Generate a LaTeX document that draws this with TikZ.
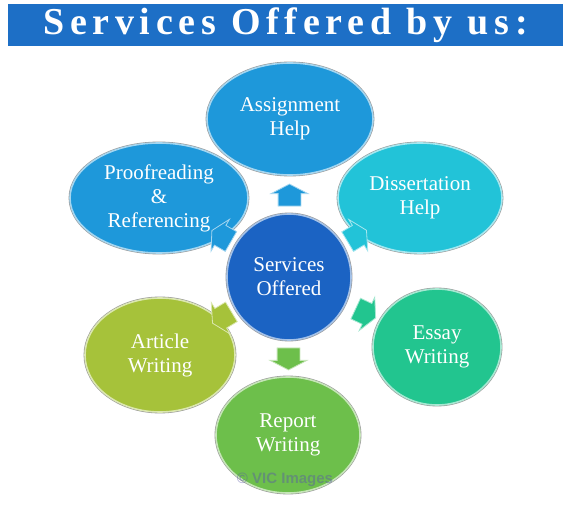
\documentclass[tikz,border=0pt]{standalone}
\usepackage{fontspec}
\setmainfont{Liberation Serif}
\newfontfamily\titlefont{Liberation Serif}[LetterSpace=15]
\newfontfamily\wmfont{Liberation Sans}
\usetikzlibrary{shapes, arrows, positioning, calc}

\definecolor{barblue}{HTML}{1D6FC6}
\definecolor{midblue}{HTML}{1B63C3}
\definecolor{skyblue}{HTML}{1E98DA}
\definecolor{cyanish}{HTML}{22C3D8}
\definecolor{seagreen}{HTML}{22C58F}
\definecolor{leafgreen}{HTML}{6DBF4B}
\definecolor{olivegreen}{HTML}{A6C23A}

\tikzset{
	bubble/.style={ellipse, fill=#1, draw=#1!40!white, line width=1.6pt,
		preaction={draw=black!40, line width=2.8pt},
		text=white, align=center, inner sep=0pt,
		font=\fontsize{21}{24}\selectfont},
	blockarr/.style={single arrow, fill=#1, draw=#1!40!white, line width=0.8pt,
		inner xsep=0pt, inner ysep=11pt, minimum height=22pt,
		single arrow head extend=7pt, single arrow tip angle=125}
}

\begin{document}
\begin{tikzpicture}[x=1pt,y=1pt]
	\useasboundingbox (0,0) rectangle (573,504);
	\node[fill=barblue, minimum width=555pt, minimum height=42pt, text=white,
		font=\titlefont\bfseries\fontsize{38}{40}\selectfont] (title) at (285.5,479) {Services Offered by us:};
	\node[bubble=midblue, minimum width=124pt, minimum height=126pt] (c) at (289,227) {Services\\Offered};
	\node[bubble=skyblue, minimum width=166pt, minimum height=112pt] (a) at (290,385) {Assignment\\Help};
	\node[bubble=cyanish, minimum width=164pt, minimum height=110pt] (d) at (420,306) {Dissertation\\Help};
	\node[bubble=seagreen, minimum width=128pt, minimum height=116pt] (e) at (437,157) {Essay\\Writing};
	\node[bubble=leafgreen, minimum width=144pt, minimum height=116pt] (r) at (288,69) {Report\\Writing};
	\node[bubble=olivegreen, minimum width=150pt, minimum height=114pt] (w) at (160,149) {Article\\Writing};
	\node[bubble=skyblue, minimum width=178pt, minimum height=110pt] (p) at (159,306) {Proofreading\\\&\\Referencing};
	% arrows out of the middle
	\foreach \to/\col/\ang in {a/skyblue/90, d/cyanish/31, e/seagreen/-25,
		r/leafgreen/-90, w/olivegreen/211, p/skyblue/150}
		\node[blockarr=\col, rotate=\ang] (arr-\to) at ($(c)!.5!(\to)$) {};
	\node[font=\wmfont\bfseries\fontsize{15}{16}\selectfont, text=gray!70!blue, opacity=.45] (wm) at (285,24) {© VIC Images};
\end{tikzpicture}
\end{document}
